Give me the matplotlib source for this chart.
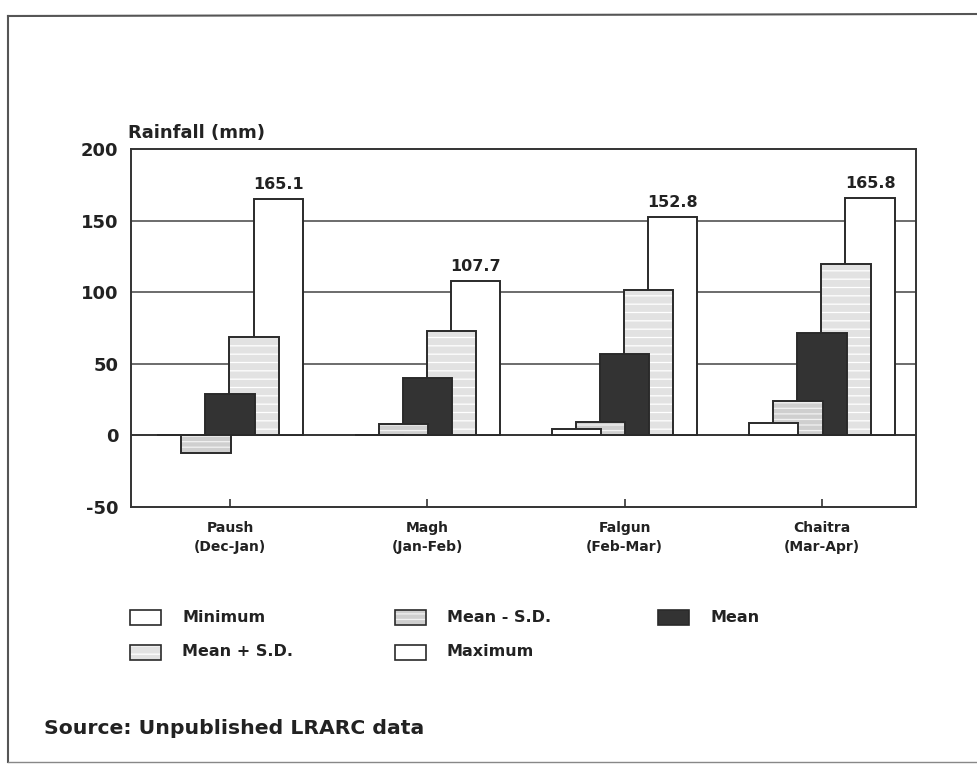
import matplotlib
matplotlib.use("Agg")
import matplotlib.pyplot as plt
import matplotlib.patches as mpatches
from matplotlib.lines import Line2D
import numpy as np

plt.rcParams['font.family'] = ['DejaVu Sans']
plt.rcParams['hatch.linewidth'] = 0.9

categories = ["Paush\n(Dec-Jan)", "Magh\n(Jan-Feb)", "Falgun\n(Feb-Mar)", "Chaitra\n(Mar-Apr)"]
series_names = ["Minimum", "Mean - S.D.", "Mean", "Mean + S.D.", "Maximum"]
minimum = [0, 0, 4.5, 8.5]
mean_minus_sd = [-12, 8, 9.5, 24]
mean = [29, 40, 57, 72]
mean_plus_sd = [69, 73, 102, 120]
maximum = [165.1, 107.7, 152.8, 165.8]
y_ticks = [-50, 0, 50, 100, 150, 200]

series = [minimum, mean_minus_sd, mean, mean_plus_sd, maximum]
styles = [
    dict(facecolor="white", hatch=None, hc=None),
    dict(facecolor="#cfcfcf", hatch="---", hc="#f2f2f2"),
    dict(facecolor="#333333", hatch=None, hc=None),
    dict(facecolor="#e2e2e2", hatch="--", hc="#ffffff"),
    dict(facecolor="white", hatch=None, hc=None),
]
edge = "#2a2a2a"
txt = "#222222"

fig = plt.figure(figsize=(9.77, 7.65), dpi=100)
ax = fig.add_axes([0.134, 0.3373, 0.8036, 0.4673])

x = np.arange(len(categories))
width = 0.25
step = 0.122
n = len(series)
for i, (vals, st) in enumerate(zip(series, styles)):
    offs = (i - (n - 1) / 2) * step
    z = 10 + 2 * (n - i)
    if st["hatch"]:
        ax.bar(x + offs, vals, width, facecolor=st["facecolor"], hatch=st["hatch"],
               edgecolor=st["hc"], linewidth=0, zorder=z)
        ax.bar(x + offs, vals, width, fill=False, edgecolor=edge, linewidth=1.4, zorder=z + 0.5)
    else:
        ax.bar(x + offs, vals, width, facecolor=st["facecolor"],
               edgecolor=edge, linewidth=1.4, zorder=z)

for xi, v in zip(x, maximum):
    ax.text(xi + 2 * step, v + 5, f"{v:.1f}", ha="center", va="bottom",
            fontsize=11.5, fontweight="bold", color=txt, zorder=30)

ax.set_ylim(-50, 200)
ax.set_xlim(-0.5025, 3.477)
ax.set_yticks(y_ticks)
ax.set_yticklabels([str(t) for t in y_ticks], fontsize=13, fontweight="bold", color=txt)
ax.tick_params(axis="y", length=0, pad=9)
ax.set_xticks(x)
ax.set_xticklabels(categories, fontsize=10, fontweight="bold", color=txt, linespacing=1.45)
ax.tick_params(axis="x", direction="in", length=6, width=1.2, color="#333333", pad=10)

for g in [50, 100, 150]:
    ax.axhline(g, color="#444444", linewidth=1.1, zorder=1)
ax.axhline(0, color="#333333", linewidth=1.4, zorder=2)
for s in ax.spines.values():
    s.set_linewidth(1.4)
    s.set_color("#333333")

fig.text(128 / 977, 1 - 133 / 765, "Rainfall (mm)", fontsize=13, fontweight="bold",
         color=txt, ha="left", va="center")

# legend (row-major order as in the reference)
legend_rows = [
    [(0, 130), (1, 395), (2, 658)],
    [(3, 130), (4, 395)],
]
row_y = [617, 652]
for r, items in enumerate(legend_rows):
    yc = row_y[r]
    for idx, xl in items:
        st = styles[idx]
        rx, ry, rw, rh = xl / 977, 1 - (yc + 8) / 765, 31 / 977, 15 / 765
        if st["hatch"]:
            fig.add_artist(mpatches.Rectangle((rx, ry), rw, rh, transform=fig.transFigure,
                                              facecolor=st["facecolor"], hatch=st["hatch"],
                                              edgecolor=st["hc"], linewidth=0))
            fig.add_artist(mpatches.Rectangle((rx, ry), rw, rh, transform=fig.transFigure,
                                              fill=False, edgecolor=edge, linewidth=1.2))
        else:
            fig.add_artist(mpatches.Rectangle((rx, ry), rw, rh, transform=fig.transFigure,
                                              facecolor=st["facecolor"], edgecolor=edge, linewidth=1.2))
        fig.text((xl + 52) / 977, 1 - yc / 765, series_names[idx], fontsize=11.5,
                 fontweight="bold", color=txt, ha="left", va="center")

fig.text(44 / 977, 1 - 728 / 765, "Source: Unpublished LRARC data", fontsize=14.7,
         fontweight="bold", color=txt, ha="left", va="center")

# outer frame of the figure
fc = "#555555"
fig.add_artist(Line2D([8 / 977, 8 / 977], [1 - 762 / 765, 1 - 16 / 765], transform=fig.transFigure, color=fc, lw=1.5))
fig.add_artist(Line2D([8 / 977, 1.0], [1 - 16 / 765, 1 - 14 / 765], transform=fig.transFigure, color=fc, lw=1.5))
fig.add_artist(Line2D([8 / 977, 1.0], [1 - 762 / 765, 1 - 762 / 765], transform=fig.transFigure, color="#888888", lw=1.0))

fig.savefig("out.png", dpi=100)
